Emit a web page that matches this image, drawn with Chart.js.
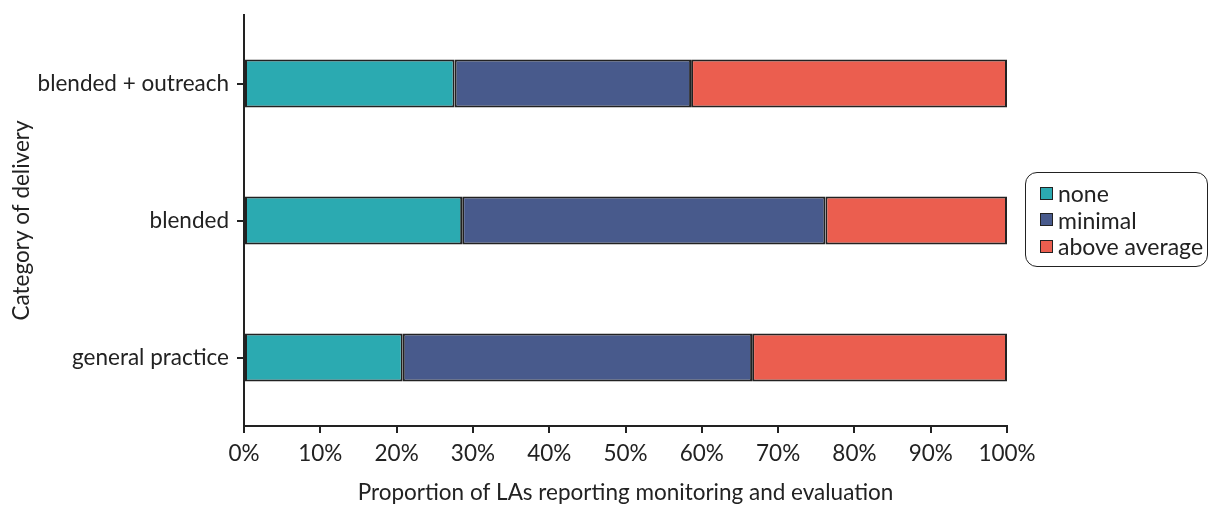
<!DOCTYPE html>
<html>
<head>
<meta charset="utf-8">
<script src="https://cdn.jsdelivr.net/npm/chart.js@4"></script>
<style>
    body { margin: 0; background: #fff; }
    #wrap { position: relative; width: 1208px; height: 506px; }
    #legend {
        position: absolute; left: 1025px; top: 172px; width: 183px; height: 95px;
        border: 1.5px solid #222; border-radius: 12px; box-sizing: border-box;
        font-family: Lato, sans-serif; font-size: 23px; color: #222;
        padding: 7px 0 0 14px;
    }
    .item { display: flex; align-items: center; height: 26.5px; white-space: nowrap; }
    .sw { width: 11px; height: 11px; border: 1.5px solid #222; margin-right: 5px; }
</style>
</head>
<body>
<div id="wrap">
    <canvas id="chart" width="1208" height="506"></canvas>
    <div id="legend"></div>
</div>
<script>
// --- DATA ---
const categories = ["blended + outreach", "blended", "general practice"];
const seriesNames = ["none", "minimal", "above average"];
const noneValues = [27.6, 28.6, 20.8];
const minimalValues = [31.0, 47.6, 45.8];
const aboveValues = [41.4, 23.8, 33.4];
const colors = ['#2BAAB1', '#485A8C', '#EB5E4F'];

const ink = '#222';
const font = { family: 'Lato, sans-serif', size: 22.5 };

function makeSet(label, data, color) {
    return {
        label: label,
        data: data,
        backgroundColor: color,
        borderColor: ink,
        borderWidth: 2,
        borderSkipped: false,
        barPercentage: 0.7,
        categoryPercentage: 0.5
    };
}

const ctx = document.getElementById('chart').getContext('2d');
new Chart(ctx, {
    type: 'bar',
    data: {
        labels: categories,
        datasets: [
            makeSet(seriesNames[0], noneValues, colors[0]),
            makeSet(seriesNames[1], minimalValues, colors[1]),
            makeSet(seriesNames[2], aboveValues, colors[2])
        ]
    },
    options: {
        indexAxis: 'y',
        responsive: false,
        animation: false,
        layout: { padding: { top: 15, right: 201, left: 0, bottom: 0 } },
        plugins: { legend: { display: false }, tooltip: { enabled: false } },
        scales: {
            x: {
                stacked: true,
                min: 0, max: 100,
                ticks: { stepSize: 10, color: ink, font: font, padding: 7, callback: v => v + '%' },
                grid: { drawOnChartArea: false, drawTicks: true, tickLength: 7, color: ink, lineWidth: 2 },
                border: { color: ink, width: 2 },
                title: { display: true, text: 'Proportion of LAs reporting monitoring and evaluation', color: ink, font: font, padding: { top: 0, bottom: 0 } },
                afterFit: s => { s.height = 80; }
            },
            y: {
                stacked: true,
                ticks: { color: ink, font: font, padding: 8 },
                grid: { offset: false, drawOnChartArea: false, drawTicks: true, tickLength: 7, color: ink, lineWidth: 2 },
                border: { color: ink, width: 2 },
                title: { display: true, text: 'Category of delivery', color: ink, font: font, padding: { top: 8, bottom: 0 } },
                afterFit: s => { s.width = 244; s.paddingTop = 0; s.paddingBottom = 0; }
            }
        }
    }
});

const legend = document.getElementById('legend');
seriesNames.forEach((name, i) => {
    const item = document.createElement('div');
    item.className = 'item';
    item.innerHTML = `<span class="sw" style="background:${colors[i]}"></span>${name}`;
    legend.appendChild(item);
});
</script>
</body>
</html>
